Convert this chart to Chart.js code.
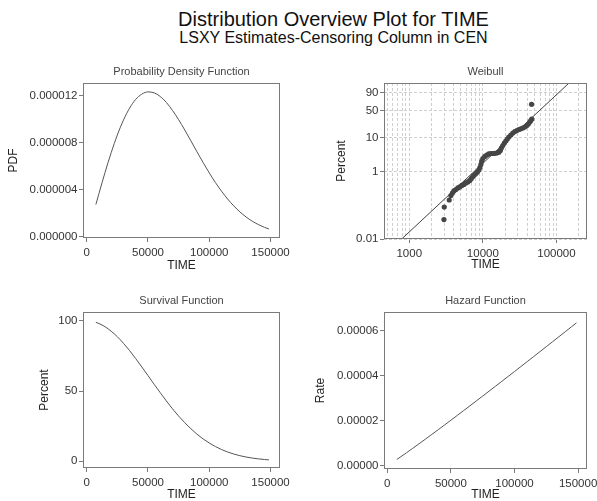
<!DOCTYPE html>
<html>
<head>
<meta charset="utf-8">
<title>Distribution Overview Plot for TIME</title>
<script src="https://cdn.jsdelivr.net/npm/chart.js@4.4.0/dist/chart.umd.min.js"></script>
<style>
    html, body { margin: 0; padding: 0; background: #fff; overflow: hidden; }
    body { width: 597px; height: 501px; position: relative; font-family: 'Liberation Sans', Arial, sans-serif; }
    .head { position: absolute; left: 0; width: 667px; text-align: center; color: #111; white-space: nowrap; }
    canvas { position: absolute; }
</style>
</head>
<body>
<div class="head" style="top:9px;font-size:20px;line-height:20px">Distribution Overview Plot for TIME</div>
<div class="head" style="top:29.5px;font-size:16px;line-height:16px">LSXY Estimates-Censoring Column in CEN</div>

<canvas id="pdfChart" width="300" height="224" style="left:0;top:58px"></canvas>
<canvas id="weibullChart" width="297" height="224" style="left:300px;top:58px"></canvas>
<canvas id="survivalChart" width="300" height="222" style="left:0;top:283px"></canvas>
<canvas id="hazardChart" width="297" height="222" style="left:300px;top:283px"></canvas>

<script>
/* ---------- data ---------- */

// fitted curves (PDF, survival, hazard) sampled along TIME
const curveTimes = [7500, 10000, 15000, 20000, 25000, 30000, 35000, 40000, 45000, 50000,
    55000, 60000, 65000, 70000, 75000, 80000, 85000, 90000, 95000, 100000,
    105000, 110000, 115000, 120000, 125000, 130000, 135000, 140000, 145000, 148700];
const pdfValues = [2.73e-6, 3.66e-6, 5.48e-6, 7.16e-6, 8.67e-6, 9.94e-6, 10.96e-6, 11.71e-6, 12.16e-6, 12.35e-6,
    12.27e-6, 11.96e-6, 11.45e-6, 10.77e-6, 9.98e-6, 9.10e-6, 8.17e-6, 7.23e-6, 6.31e-6, 5.43e-6,
    4.61e-6, 3.87e-6, 3.20e-6, 2.61e-6, 2.10e-6, 1.67e-6, 1.31e-6, 1.02e-6, 0.78e-6, 0.64e-6];
const survivalPercent = [99.0, 98.2, 95.9, 92.7, 88.8, 84.1, 78.9, 73.2, 67.2, 61.1,
    54.9, 48.9, 43.0, 37.4, 32.2, 27.5, 23.2, 19.3, 15.9, 13.0,
    10.5, 8.36, 6.60, 5.15, 3.97, 3.03, 2.29, 1.71, 1.26, 1.0];
const hazardRates = [2.76e-6, 3.73e-6, 5.71e-6, 7.72e-6, 9.76e-6, 11.82e-6, 13.90e-6, 15.99e-6, 18.10e-6, 20.21e-6,
    22.34e-6, 24.48e-6, 26.62e-6, 28.78e-6, 30.94e-6, 33.11e-6, 35.29e-6, 37.47e-6, 39.66e-6, 41.85e-6,
    44.05e-6, 46.26e-6, 48.47e-6, 50.68e-6, 52.90e-6, 55.12e-6, 57.35e-6, 59.58e-6, 61.82e-6, 63.48e-6];

// Weibull probability plot: plotted points (TIME, percent)
const probTimes = [2960, 2990, 3490, 3680, 3860, 4040, 4300, 4580, 4870, 5190,
    5520, 5880, 6260, 6660, 6980, 7320, 7670, 8040, 8420, 8820,
    9110, 9400, 9630, 10000, 10650, 11330, 12060, 12840, 13670, 14550,
    15490, 16490, 17280, 17830, 18670, 19570, 20510, 21500, 22530, 23990,
    25530, 27180, 28930, 30810, 32780, 34890, 37150, 39540, 41440, 43410,
    44800, 46230, 45900];
const probPercents = [0.038, 0.090, 0.146, 0.199, 0.236, 0.272, 0.301, 0.334, 0.358, 0.397,
    0.425, 0.471, 0.505, 0.559, 0.642, 0.737, 0.814, 0.902, 0.999, 1.146,
    1.36, 1.668, 2.05, 2.51, 2.88, 3.18, 3.41, 3.52, 3.52, 3.57,
    3.64, 3.85, 4.31, 5.10, 6.03, 7.12, 8.13, 9.26, 10.56, 12.02,
    13.66, 15.02, 16.01, 17.06, 17.81, 18.71, 19.91, 21.82, 23.87, 26.89,
    29.33, 31.94, 65.3];
// fitted LSXY line, end points
const fitTimes = [789, 148300];
const fitPercents = [0.01, 98.97];

// ticks
const timeTicks = [0, 50000, 100000, 150000];
const pdfTicks = [0, 0.000004, 0.000008, 0.000012];
const survivalTicks = [0, 50, 100];
const hazardTicks = [0, 0.00002, 0.00004, 0.00006];
const probPercentTicks = [0.01, 1, 10, 50, 90];
const probTimeGrid = [500, 600, 700, 800, 900,
    1000, 2000, 3000, 4000, 5000, 6000, 7000, 8000, 9000,
    10000, 20000, 30000, 40000, 50000, 60000, 70000, 80000, 90000,
    100000, 200000];
const probTimeLabels = [1000, 10000, 100000];

/* ---------- style ---------- */
const FONT = "'Liberation Sans', Arial, sans-serif";
const INK = '#333';
const CURVE = '#555';
const FRAME = '#7a7a7a';
Chart.defaults.font.family = FONT;
Chart.defaults.color = INK;

// Weibull probability axis: position is ln(-ln(1 - p))
const wbT = p => Math.log(-Math.log(1 - p / 100));
class WeibullScale extends Chart.Scale {
    static id = 'weibull';
    static defaults = {};
    determineDataLimits() { this.min = this.options.min; this.max = this.options.max; }
    buildTicks() { return probPercentTicks.map(v => ({ value: v })); }
    getLabelForValue(v) { return String(v); }
    configure() { super.configure(); this._lo = wbT(this.min); this._hi = wbT(this.max); }
    getPixelForValue(v) { return this.getPixelForDecimal((wbT(v) - this._lo) / (this._hi - this._lo)); }
    getValueForPixel(px) {
        const w = this._lo + this.getDecimalForPixel(px) * (this._hi - this._lo);
        return 100 * (1 - Math.exp(-Math.exp(w)));
    }
}
Chart.register(WeibullScale);

// box around every plot area
const framePlugin = {
    id: 'frame',
    afterDraw(chart) {
        const { ctx, chartArea: a } = chart;
        ctx.save();
        ctx.strokeStyle = FRAME;
        ctx.lineWidth = 1;
        ctx.strokeRect(a.left + 0.5, a.top + 0.5, a.right - a.left - 1, a.bottom - a.top - 1);
        ctx.restore();
    }
};

const tickFont = { family: FONT, size: 11.5 };
const noPad = s => { s.paddingLeft = s.paddingRight = s.paddingTop = s.paddingBottom = 0; };

function panelTitle(text, top, bottom) {
    return { display: true, text, fullSize: false, color: '#444',
        font: { family: FONT, size: 11, weight: 'normal' }, padding: { top, bottom } };
}
function axisTitle(text, padding) {
    return { display: true, text, color: '#222', font: { family: FONT, size: 12 }, padding };
}
function xTime(min, max, height, titlePad) {
    return {
        type: 'linear', min, max,
        afterBuildTicks: s => { s.ticks = timeTicks.map(v => ({ value: v })); },
        afterFit: s => { s.height = height; noPad(s); },
        grid: { drawOnChartArea: false, tickLength: 4, tickColor: FRAME },
        border: { display: false },
        ticks: { font: tickFont, padding: 3.5, maxRotation: 0, autoSkip: false, callback: v => String(v) },
        title: axisTitle('TIME', { top: 0, bottom: titlePad })
    };
}
function yValue(min, max, ticks, digits, width, label, titlePad) {
    return {
        type: 'linear', min, max,
        afterBuildTicks: s => { s.ticks = ticks.map(v => ({ value: v })); },
        afterFit: s => { s.width = width; noPad(s); },
        grid: { drawOnChartArea: false, tickLength: 4, tickColor: FRAME },
        border: { display: false },
        ticks: { font: tickFont, padding: 1.5, autoSkip: false, callback: v => v.toFixed(digits) },
        title: axisTitle(label, { top: titlePad, bottom: 0 })
    };
}
function curve(values) {
    return {
        data: curveTimes.map((t, i) => ({ x: t, y: values[i] })),
        showLine: true, borderColor: CURVE, borderWidth: 1, pointRadius: 0,
        cubicInterpolationMode: 'monotone'
    };
}
function makeChart(id, datasets, scales, title, padRight) {
    return new Chart(document.getElementById(id), {
        type: 'scatter',
        data: { datasets },
        options: {
            responsive: false, animation: false, devicePixelRatio: 1,
            layout: { padding: { left: 0, right: padRight, top: 0, bottom: 0 } },
            scales,
            plugins: { legend: { display: false }, tooltip: { enabled: false }, title }
        },
        plugins: [framePlugin]
    });
}

/* ---------- panels ---------- */

// Probability Density Function
makeChart('pdfChart', [curve(pdfValues)], {
    x: xTime(-3000, 157700, 44, 8.8),
    y: yValue(-0.13e-6, 13.11e-6, pdfTicks, 6, 83, 'PDF', 6.1)
}, panelTitle('Probability Density Function', 7.4, 4.4), 20);

// Weibull probability plot
makeChart('weibullChart', [
    {
        data: probTimes.map((t, i) => ({ x: t, y: probPercents[i] })),
        pointRadius: 2.6, pointBackgroundColor: '#454545', pointBorderWidth: 0
    },
    {
        data: fitTimes.map((t, i) => ({ x: t, y: fitPercents[i] })),
        showLine: true, borderColor: '#444', borderWidth: 1, pointRadius: 0
    }
], {
    x: {
        type: 'logarithmic', min: 454, max: 260000,
        afterBuildTicks: s => { s.ticks = probTimeGrid.map(v => ({ value: v })); },
        afterFit: s => { s.height = 43; noPad(s); },
        grid: { color: '#cfcfcf', tickLength: 4,
            tickColor: c => probTimeLabels.includes(c.tick && c.tick.value) ? FRAME : 'rgba(0,0,0,0)' },
        border: { display: false, dash: [3, 2] },
        ticks: { font: tickFont, padding: 3.5, maxRotation: 0, autoSkip: false,
            callback: v => probTimeLabels.includes(v) ? String(v) : '' },
        title: axisTitle('TIME', { top: 0, bottom: 9.8 })
    },
    y: {
        type: 'weibull', min: 0.01, max: 98.97,
        afterFit: s => { s.width = 84; noPad(s); },
        grid: { color: '#cfcfcf', tickLength: 4, tickColor: FRAME },
        border: { display: false, dash: [3, 2] },
        ticks: { font: tickFont, padding: 1.5, autoSkip: false },
        title: axisTitle('Percent', { top: 34.5, bottom: 0 })
    }
}, panelTitle('Weibull', 7.4, 4.4), 10);

// Survival Function
makeChart('survivalChart', [curve(survivalPercent)], {
    x: xTime(-3000, 157700, 37, 2.8),
    y: yValue(-4.8, 106.4, survivalTicks, 0, 83, 'Percent', 37.8)
}, panelTitle('Survival Function', 11.1, 4.7), 20);

// Hazard Function
makeChart('hazardChart', [curve(hazardRates)], {
    x: xTime(-2600, 157000, 36, 2.8),
    y: yValue(-1.47e-6, 68.3e-6, hazardTicks, 5, 84, 'Rate', 13.5)
}, panelTitle('Hazard Function', 11.1, 4.7), 10);
</script>
</body>
</html>
